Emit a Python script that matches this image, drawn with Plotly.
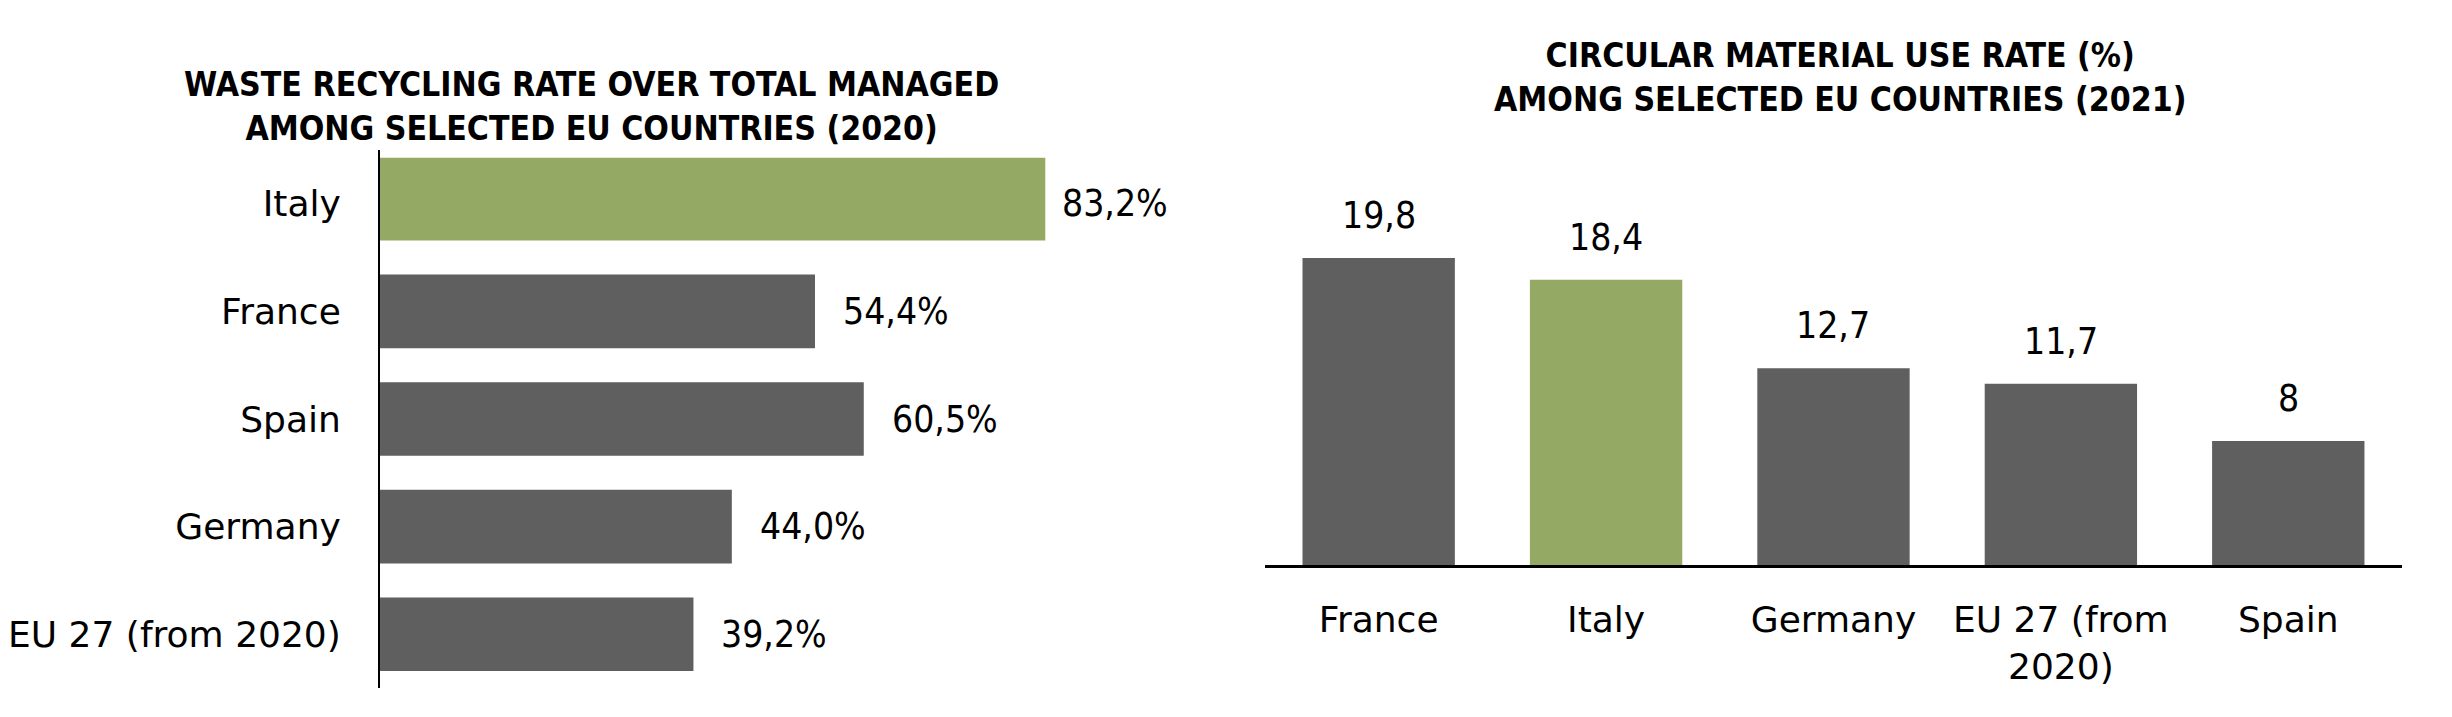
import plotly.graph_objects as go

# left chart: waste recycling rate (2020)
waste_countries = ["Italy", "France", "Spain", "Germany", "EU 27 (from 2020)"]
waste_rates = [83.2, 54.4, 60.5, 44.0, 39.2]
waste_labels = ["83,2%", "54,4%", "60,5%", "44,0%", "39,2%"]

# right chart: circular material use rate (2021)
cmu_countries = ["France", "Italy", "Germany", "EU 27 (from<br>2020)", "Spain"]
cmu_rates = [19.8, 18.4, 12.7, 11.7, 8.0]
cmu_labels = ["19,8", "18,4", "12,7", "11,7", "8"]

GREY = "#5f5f5f"
GREEN = "#93a964"
FONT = "DejaVu Sans Condensed"
TICKFONT = "DejaVu Sans"

# Italy is highlighted: green, a bit thicker, label closer to the bar
waste_colors = [GREEN if c == "Italy" else GREY for c in waste_countries]
waste_widths = [0.77 if c == "Italy" else 0.684 for c in waste_countries]
waste_offsets = [-0.428 if c == "Italy" else -0.342 for c in waste_countries]
waste_gaps = [15 if c == "Italy" else 26 for c in waste_countries]
cmu_colors = [GREEN if c == "Italy" else GREY for c in cmu_countries]

fig = go.Figure()
fig.add_trace(go.Bar(
    x=waste_rates, y=waste_countries, orientation="h",
    marker=dict(color=waste_colors, line=dict(width=0)),
    width=waste_widths, offset=waste_offsets,
    xaxis="x", yaxis="y", hoverinfo="skip", showlegend=False))
fig.add_trace(go.Bar(
    x=cmu_countries, y=cmu_rates,
    marker=dict(color=cmu_colors, line=dict(width=0)),
    width=0.67,
    xaxis="x2", yaxis="y2", hoverinfo="skip", showlegend=False))

annotations = []
for c, v, t, g in zip(waste_countries, waste_rates, waste_labels, waste_gaps):
    annotations.append(dict(x=v, y=c, xref="x", yref="y", text=t, showarrow=False,
                            xanchor="left", yanchor="middle", xshift=g,
                            font=dict(family=FONT, size=37, color="black")))
for c, v, t in zip(cmu_countries, cmu_rates, cmu_labels):
    annotations.append(dict(x=c, y=v, xref="x2", yref="y2", text=t, showarrow=False,
                            xanchor="center", yanchor="bottom", yshift=19,
                            font=dict(family=FONT, size=37, color="black")))

annotations.append(dict(
    x=0.2414, y=0.8508, xref="paper", yref="paper", showarrow=False,
    xanchor="center", yanchor="middle",
    text="<b>WASTE RECYCLING RATE OVER TOTAL MANAGED<br>AMONG SELECTED EU COUNTRIES (2020)</b>",
    font=dict(family=FONT, size=33.5, color="black")))
annotations.append(dict(
    x=0.7505, y=0.8926, xref="paper", yref="paper", showarrow=False,
    xanchor="center", yanchor="middle",
    text="<b>CIRCULAR MATERIAL USE RATE (%)<br>AMONG SELECTED EU COUNTRIES (2021)</b>",
    font=dict(family=FONT, size=33.5, color="black")))

fig.update_layout(
    width=2452, height=717,
    margin=dict(l=0, r=0, t=0, b=0),
    paper_bgcolor="white", plot_bgcolor="white",
    font=dict(family=FONT, size=37, color="black"),
    annotations=annotations,
    xaxis=dict(domain=[0.15498, 0.48369], range=[0, 100.8], visible=False),
    yaxis=dict(domain=[0.0404, 0.7908], range=[4.5, -0.5], anchor="x",
               showline=True, linecolor="black", linewidth=2, showgrid=False,
               ticks="", ticklabelstandoff=30, zeroline=False,
               tickfont=dict(family=TICKFONT, size=36, color="black")),
    xaxis2=dict(domain=[0.5159, 0.9796], range=[-0.5, 4.5], anchor="y2",
                showline=True, linecolor="black", linewidth=3, showgrid=False,
                ticks="", ticklabelstandoff=21,
                tickfont=dict(family=TICKFONT, size=36, color="black")),
    yaxis2=dict(domain=[0.2120, 0.7308], range=[0, 24], anchor="x2", visible=False),
)

# drop the default page margin so the figure sits at the window's corner
fig.write_html("out.html", config={"displayModeBar": False},
               post_script="document.body.style.margin='0';")
